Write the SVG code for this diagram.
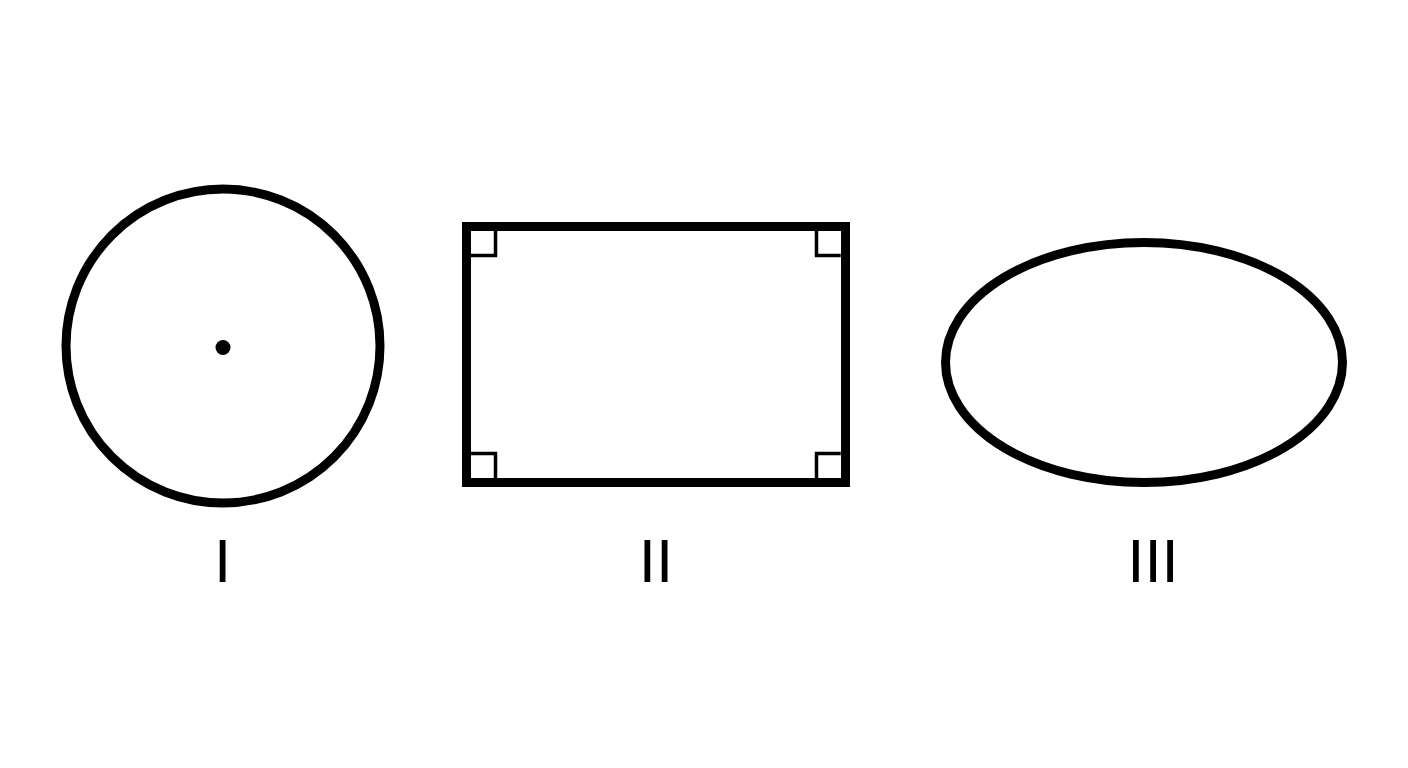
<svg xmlns="http://www.w3.org/2000/svg" width="1408" height="768" viewBox="0 0 1408 768">
  <style>
    .shape { fill: none; stroke: #000; stroke-width: 9; }
    .mark { fill: none; stroke: #000; stroke-width: 3.5; }
    .label { font-family: "Liberation Sans", Arial, sans-serif; font-size: 62px; fill: #000; text-anchor: middle; }
  </style>
  <rect x="0" y="0" width="1408" height="768" fill="#fff"/>
  <g id="circle-node">
    <circle class="shape" cx="223" cy="346" r="157"/>
    <circle cx="223" cy="347.5" r="7.5" fill="#000"/>
    <text class="label" x="222.5" y="582">I</text>
  </g>
  <g id="rectangle-node">
    <rect class="shape" x="466.5" y="226.5" width="379" height="256"/>
    <path class="mark" d="M471 255.5 H495.5 V231"/>
    <path class="mark" d="M840.7 255.5 H816.5 V231"/>
    <path class="mark" d="M471 453.5 H495.5 V478"/>
    <path class="mark" d="M840.7 453.5 H816.5 V478"/>
    <text class="label" x="656" y="582">II</text>
  </g>
  <g id="ellipse-node">
    <ellipse class="shape" cx="1144" cy="362.5" rx="198.5" ry="120"/>
    <text class="label" x="1153" y="582">III</text>
  </g>
  <g id="connectors"></g>
</svg>
